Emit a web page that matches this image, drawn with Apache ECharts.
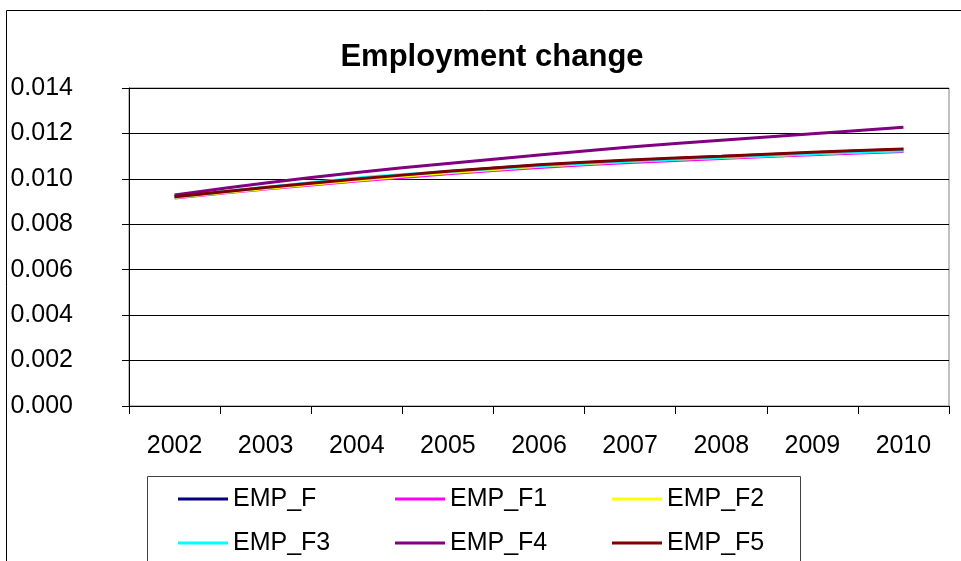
<!DOCTYPE html>
<html>
<head>
<meta charset="utf-8">
<title>Employment change</title>
<script src="https://cdn.jsdelivr.net/npm/echarts@6/dist/echarts.min.js"></script>
<style>
  html, body { margin: 0; padding: 0; background: #fff; }
  #chart { width: 961px; height: 561px; }
</style>
</head>
<body>
<div id="chart"></div>
<script>
// Years on the category axis
const years = ['2002', '2003', '2004', '2005', '2006', '2007', '2008', '2009', '2010'];

// Employment change per scenario
const EMP_F  = [0.00920, 0.00961, 0.00998, 0.01031, 0.01060, 0.01081, 0.01098, 0.01115, 0.01129];
const EMP_F1 = [0.00916, 0.00955, 0.00990, 0.01022, 0.01050, 0.01072, 0.01090, 0.01106, 0.01120];
const EMP_F2 = [0.00918, 0.00958, 0.00994, 0.01027, 0.01055, 0.01077, 0.01094, 0.01110, 0.01126];
const EMP_F3 = [0.00920, 0.00963, 0.01003, 0.01032, 0.01058, 0.01078, 0.01095, 0.01111, 0.01124];
const EMP_F4 = [0.00929, 0.00982, 0.01028, 0.01068, 0.01105, 0.01140, 0.01170, 0.01199, 0.01227];
const EMP_F5 = [0.00921, 0.00962, 0.00999, 0.01033, 0.01062, 0.01083, 0.01100, 0.01117, 0.01131];

// Value axis tick labels
const yTicks = ['0.000', '0.002', '0.004', '0.006', '0.008', '0.010', '0.012', '0.014'];

const seriesDefs = [
  { name: 'EMP_F',  data: EMP_F,  color: '#000080' },
  { name: 'EMP_F1', data: EMP_F1, color: '#FF00FF' },
  { name: 'EMP_F2', data: EMP_F2, color: '#FFFF00' },
  { name: 'EMP_F3', data: EMP_F3, color: '#00FFFF' },
  { name: 'EMP_F4', data: EMP_F4, color: '#800080' },
  { name: 'EMP_F5', data: EMP_F5, color: '#800000' }
];

const FONT = "'Liberation Sans', Arial, sans-serif";
const chart = echarts.init(document.getElementById('chart'), null, { renderer: 'canvas' });

chart.setOption({
  backgroundColor: '#ffffff',
  animation: false,
  title: {
    text: 'Employment change',
    left: 487,
    top: 37,
    textAlign: 'center',
    textStyle: { fontFamily: FONT, fontSize: 31, fontWeight: 'bold', color: '#000' }
  },
  graphic: [
    { type: 'rect', z: -1, shape: { x: 6.5, y: 10.5, width: 1000, height: 600 },
      style: { fill: 'none', stroke: '#000', lineWidth: 1 } },
    { type: 'rect', z: -1, shape: { x: 147.5, y: 476.5, width: 653, height: 120 },
      style: { fill: 'none', stroke: '#404040', lineWidth: 1 } }
  ],
  legend: {
    data: seriesDefs.map(s => s.name),
    left: 178,
    top: 484,
    width: 660,
    orient: 'horizontal',
    padding: 0,
    itemGap: 14,
    itemWidth: 50,
    itemHeight: 3,
    icon: 'rect',
    textStyle: { fontFamily: FONT, fontSize: 25, color: '#000', width: 148, lineHeight: 30 }
  },
  grid: {
    left: 129, right: 12, top: 88, bottom: 155,
    show: true, borderColor: '#808080', borderWidth: 1, containLabel: false
  },
  xAxis: {
    type: 'category',
    data: years,
    boundaryGap: true,
    axisLine: { lineStyle: { color: '#000', width: 1 } },
    axisTick: { show: true, length: 8, lineStyle: { color: '#000' } },
    axisLabel: { fontFamily: FONT, fontSize: 25, color: '#000', margin: 28 },
    splitLine: { show: false }
  },
  yAxis: {
    type: 'value',
    min: 0, max: 0.014, interval: 0.002,
    axisLine: { show: true, lineStyle: { color: '#000', width: 1 } },
    axisTick: { show: true, length: 7, lineStyle: { color: '#000' } },
    axisLabel: {
      fontFamily: FONT, fontSize: 25, color: '#000', margin: 56,
      formatter: (v) => yTicks[Math.round(v / 0.002)]
    },
    splitLine: { show: true, lineStyle: { color: '#000', width: 1 } }
  },
  series: seriesDefs.map(s => ({
    name: s.name,
    type: 'line',
    data: s.data,
    smooth: 0.3,
    showSymbol: false,
    symbol: 'none',
    color: s.color,
    lineStyle: { color: s.color, width: 3 }
  }))
});
</script>
</body>
</html>
